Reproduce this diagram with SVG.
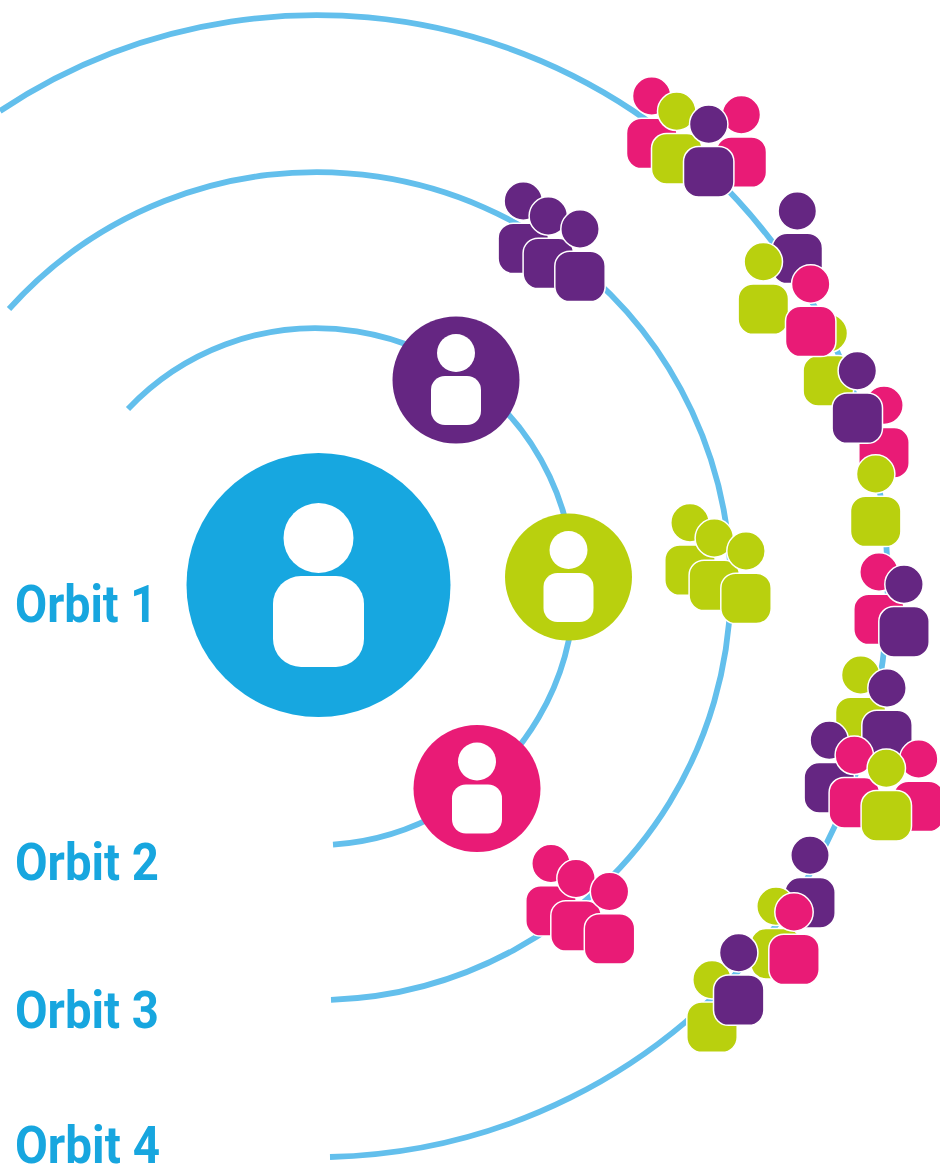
<svg xmlns="http://www.w3.org/2000/svg" width="940" height="1167" viewBox="0 0 940 1167">
<style>
.orbit{fill:none;stroke:#63bfec;stroke-width:5.8}
.lbl{font-family:"Roboto","Liberation Sans",sans-serif;font-weight:700;font-size:52px;fill:#17a6df}
.pu{fill:#652682}.pk{fill:#e91b76}.li{fill:#b9d00e}.bl{fill:#17a7e0}
.w{fill:#fff}
.s{stroke:#fff;stroke-width:1.5}
</style>
<defs>
<g id="p" class="s"><circle cx="0" cy="0" r="19.2"/><rect x="-25.2" y="22.2" width="50.4" height="50.4" rx="15"/></g>
<g id="ic" class="w"><circle cx="0" cy="-27" r="19"/><rect x="-25" y="-4" width="50" height="49" rx="14"/></g>
</defs>
<rect width="940" height="1167" fill="#fff"/>
<g id="connectors">
<path class="orbit" d="M128 409A258.5 258.5 0 1 1 333 844.6"/>
<path class="orbit" d="M9 309A414 414 0 1 1 331 999.8"/>
<path class="orbit" d="M0 111A571 571 0 1 1 330 1157"/>
</g>
<g id="self"><circle class="bl" cx="318.500" cy="585" r="132"/><circle class="w" cx="318.500" cy="538" r="35"/><rect class="w" x="273" y="576" width="91" height="91" rx="28"/></g>
<g id="orbit2-purple" transform="translate(456,380)"><circle class="pu" r="63.500"/><use href="#ic"/></g>
<g id="orbit2-lime" transform="translate(568.500,577)"><circle class="li" r="63.500"/><use href="#ic"/></g>
<g id="orbit2-pink" transform="translate(477,788.500)"><circle class="pk" r="63.500"/><use href="#ic"/></g>
<g id="o3-purple">
<use class="pu" href="#p" transform="translate(523.300,201)"/><use class="pu" href="#p" transform="translate(548.300,216)"/><use class="pu" href="#p" transform="translate(580,229)"/>
</g>
<g id="o3-lime">
<use class="li" href="#p" transform="translate(690,522.700)"/><use class="li" href="#p" transform="translate(714.300,538)"/><use class="li" href="#p" transform="translate(746,551)"/>
</g>
<g id="o3-pink">
<use class="pk" href="#p" transform="translate(551,863.500)"/><use class="pk" href="#p" transform="translate(576,878.500)"/><use class="pk" href="#p" transform="translate(609.500,891.500)"/>
</g>
<g id="o4-top">
<use class="pk" href="#p" transform="translate(651.700,96)"/><use class="pk" href="#p" transform="translate(741.300,114.700)"/><use class="li" href="#p" transform="translate(676.700,111.300)"/><use class="pu" href="#p" transform="translate(708.700,124.300)"/>
</g>
<g id="o4-a">
<use class="pu" href="#p" transform="translate(797.300,211)"/><use class="li" href="#p" transform="translate(763.300,261.700)"/>
</g>
<g id="o4-b">
<use class="li" href="#p" transform="translate(828.300,333.300)"/>
</g>
<g id="o4-a2"><use class="pk" href="#p" transform="translate(810.700,284)"/></g>
<g id="o4-c">
<use class="pk" href="#p" transform="translate(884,405.300)"/><use class="pu" href="#p" transform="translate(857.300,370.700)"/><use class="li" href="#p" transform="translate(875.700,474)"/>
</g>
<g id="o4-d">
<use class="pk" href="#p" transform="translate(879,572)"/><use class="pu" href="#p" transform="translate(904,584.300)"/>
</g>
<g id="o4-e">
<use class="li" href="#p" transform="translate(860.700,675)"/><use class="pu" href="#p" transform="translate(887,688)"/><use class="pu" href="#p" transform="translate(829.300,740.300)"/><use class="pk" href="#p" transform="translate(918.700,759)"/><use class="pk" href="#p" transform="translate(854.300,755.300)"/><use class="li" href="#p" transform="translate(886.300,768.300)"/>
</g>
<g id="o4-f">
<use class="pu" href="#p" transform="translate(810,855.300)"/><use class="li" href="#p" transform="translate(776,906.300)"/><use class="pk" href="#p" transform="translate(794,912)"/>
</g>
<g id="o4-g">
<use class="li" href="#p" transform="translate(712,979.700)"/><use class="pu" href="#p" transform="translate(738.700,952.700)"/>
</g>
<g id="labels">
<text class="lbl" x="15" y="621.500" textLength="142" lengthAdjust="spacingAndGlyphs">Orbit 1</text>
<text class="lbl" x="15" y="880" textLength="144" lengthAdjust="spacingAndGlyphs">Orbit 2</text>
<text class="lbl" x="15" y="1027.500" textLength="144" lengthAdjust="spacingAndGlyphs">Orbit 3</text>
<text class="lbl" x="15" y="1162.500" textLength="145" lengthAdjust="spacingAndGlyphs">Orbit 4</text>
</g>
</svg>
